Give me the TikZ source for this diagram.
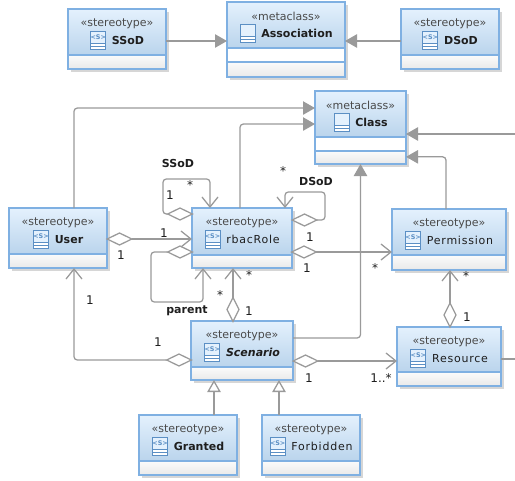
\documentclass[tikz,border=0pt]{standalone}
\usepackage{fontspec}
\usetikzlibrary{arrows.meta,shapes.geometric}
\setmainfont{DejaVu Sans}
\newfontfamily\midfont[LetterSpace=7]{DejaVu Sans}
\definecolor{edgegray}{HTML}{9A9A9A}
\definecolor{frameblue}{HTML}{7FB0E2}
\definecolor{headtop}{HTML}{E4F1FD}
\definecolor{headbot}{HTML}{BAD4EC}
\definecolor{comptop}{HTML}{FBFBFB}
\definecolor{compbot}{HTML}{E9E9E9}
\definecolor{inkdark}{HTML}{1E1E1E}
\definecolor{inkmid}{HTML}{4A4A4A}
\definecolor{iconblue}{HTML}{5B8FC4}
\tikzset{
  boxframe/.style={draw=frameblue,line width=.9pt,inner sep=0pt,outer sep=0pt,anchor=north west},
  boxshadow/.style={fill=black!16},
  stereotext/.style={font=\fontsize{8.25}{10}\selectfont,text=inkmid,inner sep=0pt},
  nametext/.style={font=\fontsize{8.25}{10}\selectfont,text=inkdark,inner sep=0pt},
  edgelabel/.style={font=\fontsize{9}{10}\selectfont,text=inkdark,inner sep=0pt},
  rolelabel/.style={font=\fontsize{8.25}{10}\selectfont\bfseries,text=inkdark,inner sep=0pt},
  conn/.style={draw=edgegray,line width=.95pt,rounded corners=2.5pt},
  openhead/.style={conn,-{Straight Barb[length=7.5pt,width=12pt,line width=.95pt]}},
  filledhead/.style={conn,-{Triangle[length=9pt,width=10pt,fill=edgegray]}},
  hollowhead/.style={conn,-{Triangle[open,length=9pt,width=10pt,fill=white]}},
  aggh/.style={diamond,draw=edgegray,fill=white,line width=.95pt,aspect=2,inner sep=0pt,outer sep=0pt,minimum width=18.5pt,minimum height=9pt},
  aggv/.style={diamond,draw=edgegray,fill=white,line width=.95pt,aspect=.5,inner sep=0pt,outer sep=0pt,minimum width=9pt,minimum height=18pt},
}
% name, x1, y1, x2, y2, y of header bottom, y of second line (0 = none), stereotype, label
\newcommand{\umlbox}[9]{%
  \pgfmathsetmacro\umlw{(#4-#2)*0.75}%
  \pgfmathsetmacro\umlh{(#5-#3)*0.75}%
  \pgfmathsetmacro\umlcx{(#2+#4)/2}%
  \pgfmathsetmacro\umlsy{#3+14.5}%
  \pgfmathsetmacro\umlly{#3+31.5}%
  \fill[boxshadow] (#2+3,#3+3) rectangle (#4+3,#5+3);
  \ifnum#7=0
    \path[top color=comptop,bottom color=compbot] (#2,#6) rectangle (#4,#5);
  \else
    \fill[white] (#2,#6) rectangle (#4,#7);
    \path[top color=comptop,bottom color=compbot] (#2,#7) rectangle (#4,#5);
    \draw[frameblue,line width=.9pt] (#2,#7) -- (#4,#7);
  \fi
  \path[top color=headtop,bottom color=headbot] (#2,#3) rectangle (#4,#6);
  \draw[frameblue,line width=.9pt] (#2,#6) -- (#4,#6);
  \node[boxframe,minimum width=\umlw pt,minimum height=\umlh pt] (#1) at (#2,#3) {};
  \node[stereotext] (#1-stereo) at (\umlcx,\umlsy) {\guillemotleft #8\guillemotright};
  \node[nametext] (#1-label) at (\umlcx+11,\umlly) {#9};
  \begin{scope}[shift={(#1-label.west)}]
    \fill[headtop] (-21,-9) rectangle (-6,9);
    \fill[white] (-21,3) rectangle (-6,9);
    \draw[iconblue,line width=.7pt] (-21,-9) rectangle (-6,9);
    \draw[iconblue,line width=.6pt] (-21,3) -- (-6,3) (-21,6) -- (-6,6);
    \ifnum#7=0
      \node[inner sep=0pt,text=iconblue,font=\fontsize{4.8}{5}\selectfont\bfseries] (#1-icon) at (-13.5,-3.5) {<S>};
    \fi
  \end{scope}
}
\begin{document}
\begin{tikzpicture}[x=0.75pt,y=-0.75pt]
\useasboundingbox (0,0) rectangle (515,480);
\fill[white] (0,0) rectangle (515,480);

\coordinate (exitA) at (515,359);
\coordinate (exitB) at (515,134);

\umlbox{SSoD}{68}{9}{166}{69}{55}{0}{stereotype}{\bfseries SSoD}
\umlbox{Association}{227}{2}{345}{77}{48}{62}{metaclass}{\bfseries Association}
\umlbox{DSoD}{401}{9}{499}{69}{55}{0}{stereotype}{\bfseries DSoD}
\umlbox{Class}{315}{91}{406}{164}{137}{151}{metaclass}{\bfseries Class}
\umlbox{User}{9}{208}{107}{268}{254}{0}{stereotype}{\bfseries User}
\umlbox{rbacRole}{192}{208}{292}{268}{255}{0}{stereotype}{\midfont rbacRole}
\umlbox{Permission}{392}{209}{506}{270}{255}{0}{stereotype}{\midfont Permission}
\umlbox{Scenario}{191}{321}{293}{380}{367}{0}{stereotype}{\bfseries\itshape Scenario}
\umlbox{Resource}{397}{327}{501}{386}{372}{0}{stereotype}{\midfont Resource}
\umlbox{Granted}{139}{415}{237}{475}{461}{0}{stereotype}{\bfseries Granted}
\umlbox{Forbidden}{262}{415}{360}{475}{461}{0}{stereotype}{\midfont Forbidden}

% aggregation diamonds
\node[aggh] (dSSoD) at (180,214) {};
\node[aggh] (dDSoD) at (304.5,220) {};
\node[aggh] (dUser) at (119.5,239) {};
\node[aggh] (dParent) at (180,252) {};
\node[aggh] (dPerm) at (304,252) {};
\node[aggv] (dRole) at (233,309.5) {};
\node[aggv] (dRes) at (450,315) {};
\node[aggh] (dScenUser) at (179,360) {};
\node[aggh] (dScenRes) at (305.5,361) {};

% generalisation and extension
\draw[filledhead] ([yshift=-1.5pt]SSoD.east) -- ([yshift=-1.5pt]SSoD.east -| Association.west);
\draw[filledhead] ([yshift=-1.5pt]DSoD.west) -- ([yshift=-1.5pt]DSoD.west -| Association.east);
\draw[filledhead] ([xshift=12pt]User.north) |- ([yshift=14.6pt]Class.west);
\draw[filledhead] ([xshift=-1.5pt]rbacRole.north) |- ([yshift=2.6pt]Class.west);
\draw[filledhead] ([yshift=9.4pt]Scenario.east) -| (Class.south);
\draw[filledhead] ([xshift=-2.25pt]Permission.north) |- ([yshift=-22pt]Class.east);
\draw[filledhead] (exitB) -- (exitB -| Class.east);
\draw[conn] (exitA -| Resource.east) -- (exitA);
\draw[hollowhead] (Granted.north -| 214,0) -- (Scenario.south -| 214,0);
\draw[hollowhead] (Forbidden.north -| 279,0) -- (Scenario.south -| 279,0);

% associations
\draw[openhead] (dSSoD.west) -| (163,179) -| ([xshift=-24pt]rbacRole.north);
\draw[openhead] (dDSoD.east) -| (325,192) -| ([xshift=32.25pt]rbacRole.north);
\draw[openhead] (dUser.east) -- (dUser.east -| rbacRole.west);
\draw[openhead] (dParent.west) -| (151,302) -| ([xshift=-29.25pt]rbacRole.south);
\draw[openhead] (dPerm.east) -- (dPerm.east -| Permission.west);
\draw[openhead] (dRole.north) -- (dRole.north |- rbacRole.south);
\draw[openhead] (dRes.north) -- (dRes.north |- Permission.south);
\draw[openhead] (dScenUser.west) -| ([xshift=12pt]User.south);
\draw[openhead] (dScenRes.east) -- (dScenRes.east -| Resource.west);

% labels
\node[rolelabel] (lSSoD) at (178,163) {SSoD};
\node[rolelabel] (lDSoD) at (316,181) {DSoD};
\node[rolelabel] (lParent) at (187,311) {parent};
\node[edgelabel] (m1) at (190,185) {*};
\node[edgelabel] (m2) at (170,195) {1};
\node[edgelabel] (m3) at (283,171) {*};
\node[edgelabel] (m4) at (310,237) {1};
\node[edgelabel] (m5) at (307,268) {1};
\node[edgelabel] (m6) at (164,233) {1};
\node[edgelabel] (m7) at (249,275) {*};
\node[edgelabel] (m8) at (220,295) {*};
\node[edgelabel] (m9) at (249,311) {1};
\node[edgelabel] (m10) at (121,255) {1};
\node[edgelabel] (m11) at (90,300) {1};
\node[edgelabel] (m12) at (158,342) {1};
\node[edgelabel] (m13) at (309,378) {1};
\node[edgelabel] (m14) at (381,378) {1..*};
\node[edgelabel] (m15) at (375,268) {*};
\node[edgelabel] (m16) at (466,276) {*};
\node[edgelabel] (m17) at (467,317) {1};
\end{tikzpicture}
\end{document}
